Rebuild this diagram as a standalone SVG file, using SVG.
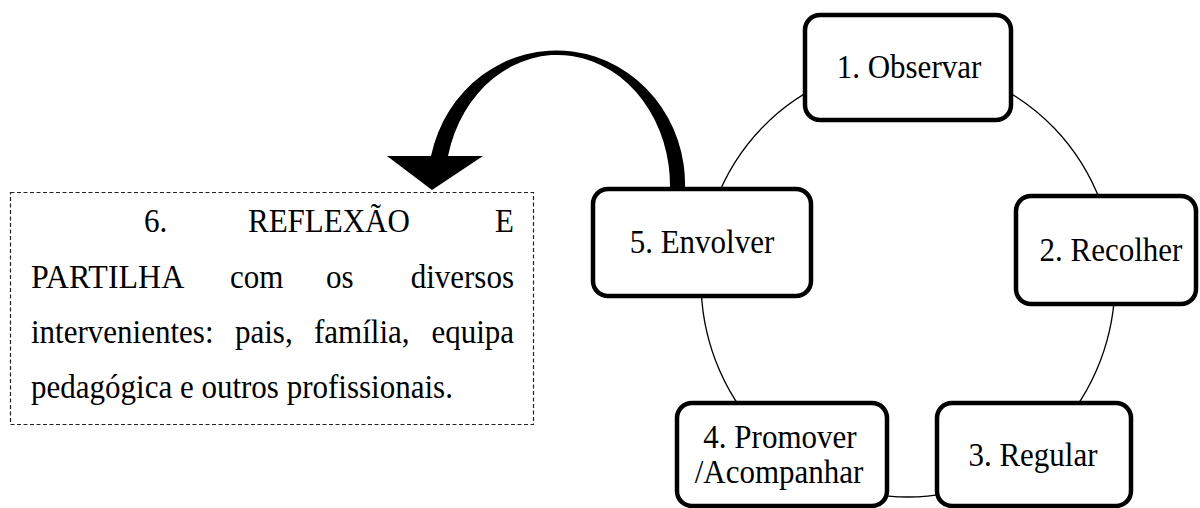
<svg xmlns="http://www.w3.org/2000/svg" width="1200" height="508" viewBox="0 0 1200 508">
<style>
.t{font-family:"Liberation Serif","Times New Roman",serif;font-size:34px;fill:#000}
.node{fill:#fff;stroke:#000;stroke-width:4.5}
.c{text-anchor:middle}
</style>
<rect width="1200" height="508" fill="#fff"/>
<g id="connectors">
<ellipse cx="908" cy="281" rx="207" ry="216" fill="none" stroke="#000" stroke-width="1.3"/>
<path d="M 685 189 A 128.5 134 0 0 0 431 156 L 448 156 A 112.5 131 0 0 1 670 189 Z" fill="#000"/>
<polygon points="387,156 483,156 432,190" fill="#000"/>
</g>
<g id="n1"><rect class="node" x="805" y="15" width="206" height="105" rx="15"/><text class="t c" x="909" y="78" textLength="144.6" lengthAdjust="spacingAndGlyphs">1. Observar</text></g>
<g id="n2"><rect class="node" x="1016" y="196" width="180" height="108" rx="15"/><text class="t c" x="1111" y="261" textLength="142.9" lengthAdjust="spacingAndGlyphs">2. Recolher</text></g>
<g id="n3"><rect class="node" x="937" y="403" width="194" height="103" rx="15"/><text class="t c" x="1033" y="466" textLength="129.1" lengthAdjust="spacingAndGlyphs">3. Regular</text></g>
<g id="n4"><rect class="node" x="677" y="403" width="210" height="103" rx="15"/><text class="t c" x="780" y="448" textLength="153.3" lengthAdjust="spacingAndGlyphs">4. Promover</text><text class="t c" x="779" y="483" textLength="168.7" lengthAdjust="spacingAndGlyphs">/Acompanhar</text></g>
<g id="n5"><rect class="node" x="593" y="189" width="218" height="107" rx="15"/><text class="t c" x="702" y="253" textLength="144.6" lengthAdjust="spacingAndGlyphs">5. Envolver</text></g>
<g id="n6">
<rect x="10.5" y="192.5" width="523" height="232" fill="none" stroke="#222" stroke-width="1.2" stroke-dasharray="4 2.5"/>
<text class="t" x="144" y="232" textLength="23.3" lengthAdjust="spacingAndGlyphs">6.</text>
<text class="t" x="248" y="232" textLength="161.9" lengthAdjust="spacingAndGlyphs">REFLEXÃO</text>
<text class="t" x="495" y="232" textLength="18.9" lengthAdjust="spacingAndGlyphs">E</text>
<text class="t" x="31" y="288" textLength="153.3" lengthAdjust="spacingAndGlyphs">PARTILHA</text>
<text class="t" x="230" y="288" textLength="53.4" lengthAdjust="spacingAndGlyphs">com</text>
<text class="t" x="326" y="288" textLength="27.6" lengthAdjust="spacingAndGlyphs">os</text>
<text class="t" x="410.7" y="288" textLength="103.3" lengthAdjust="spacingAndGlyphs">diversos</text>
<text class="t" x="31" y="343" textLength="182.5" lengthAdjust="spacingAndGlyphs">intervenientes:</text>
<text class="t" x="235" y="343" textLength="57.7" lengthAdjust="spacingAndGlyphs">pais,</text>
<text class="t" x="314" y="343" textLength="95.6" lengthAdjust="spacingAndGlyphs">família,</text>
<text class="t" x="431.4" y="343" textLength="82.6" lengthAdjust="spacingAndGlyphs">equipa</text>
<text class="t" x="31" y="398" textLength="421.9" lengthAdjust="spacingAndGlyphs">pedagógica e outros profissionais.</text>
</g>
</svg>
